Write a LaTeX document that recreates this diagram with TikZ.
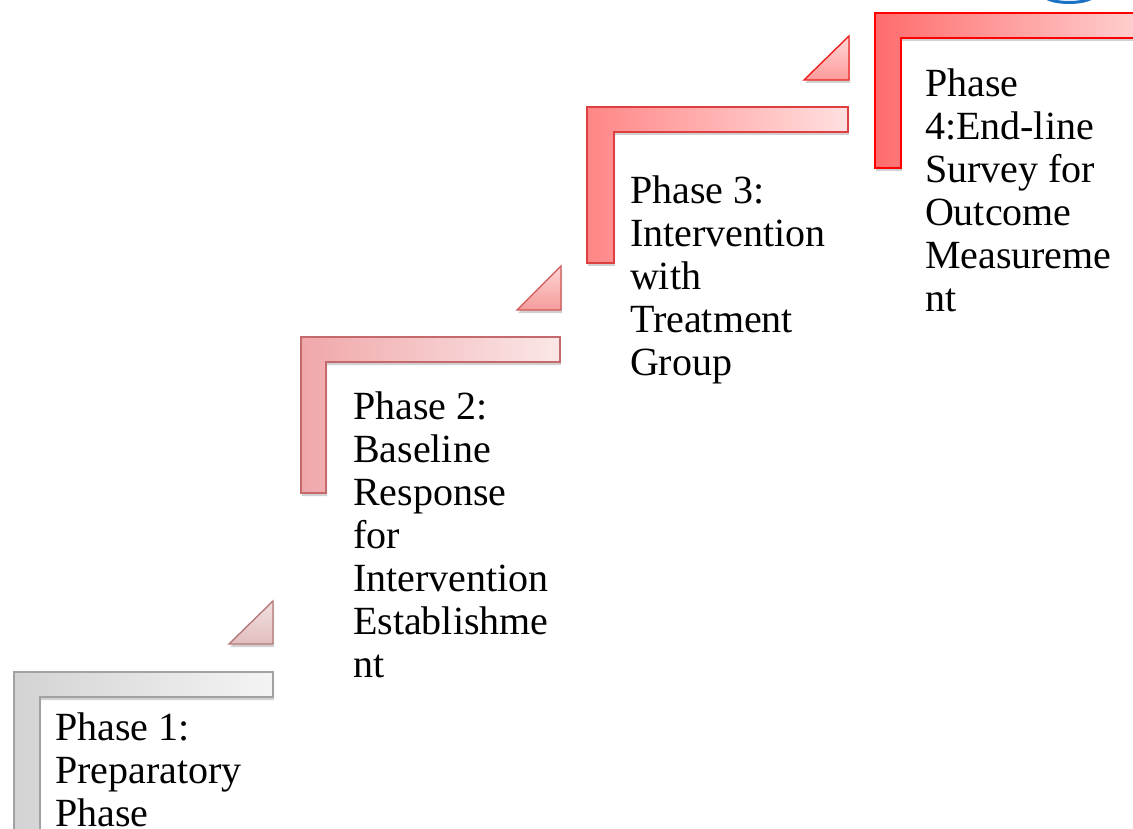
\documentclass[tikz,border=0pt]{standalone}
\usepackage{fontspec}
\setmainfont{Liberation Serif}
\usetikzlibrary{shadows}

% step colours: left shade, right shade, outline
\definecolor{sOneL}{HTML}{D3D3D3}
\definecolor{sOneR}{HTML}{F4F4F4}
\definecolor{sOneD}{HTML}{A2A2A2}
\definecolor{sTwoL}{HTML}{F0A7AA}
\definecolor{sTwoR}{HTML}{FBE7E7}
\definecolor{sTwoD}{HTML}{C46A6C}
\definecolor{sThrL}{HTML}{FF8686}
\definecolor{sThrR}{HTML}{FFE0E0}
\definecolor{sThrD}{HTML}{DD4040}
\definecolor{sFouL}{HTML}{FF6C6C}
\definecolor{sFouR}{HTML}{FFDADA}
\definecolor{sFouD}{HTML}{FF0000}
% arrow-head triangles: top shade, bottom shade, outline
\definecolor{tOneT}{HTML}{F2E0E0}
\definecolor{tOneB}{HTML}{E2BEBE}
\definecolor{tOneD}{HTML}{B47A7A}
\definecolor{tTwoT}{HTML}{FFD4D4}
\definecolor{tTwoB}{HTML}{F59C9C}
\definecolor{tTwoD}{HTML}{D05858}
\definecolor{tThrT}{HTML}{FFD8D8}
\definecolor{tThrB}{HTML}{FF9A9A}
\definecolor{tThrD}{HTML}{EE2020}
\definecolor{ringblue}{HTML}{1A72C4}

\tikzset{
  stepshape/.style n args={3}{draw=#3, line width=1.4pt, line join=miter,
    left color=#1, right color=#2,
    drop shadow={shadow xshift=1pt, shadow yshift=-3pt, opacity=0.18, fill=black}},
  tipshape/.style n args={3}{draw=#3, line width=1.4pt, line join=miter,
    top color=#1, bottom color=#2,
    drop shadow={shadow xshift=1pt, shadow yshift=-3pt, opacity=0.18, fill=black}},
  phasetext/.style={anchor=base west, inner sep=0pt, outer sep=0pt,
    font=\fontsize{40}{43}\selectfont}
}

\newcommand{\phaselines}[1]{\begin{tabular}[t]{@{}l@{}}#1\end{tabular}}

\begin{document}
\begin{tikzpicture}[x=1pt, y=-1pt]
  \useasboundingbox (0,0) rectangle (1133,829);
  \fill[white] (0,0) rectangle (1133,829);

  \begin{scope}
    \clip (0,0) rectangle (1133,829);

    % partial ring at the top edge
    \draw[ringblue, line width=3pt] (1069,-6) ellipse [x radius=26, y radius=8.5];

    % step 1
    \path[stepshape={sOneL}{sOneR}{sOneD}]
      (14,672) -- (273,672) -- (273,697) -- (40,697) -- (40,845) -- (14,845) -- cycle;
    \path[tipshape={tOneT}{tOneB}{tOneD}]
      (229,644) -- (273,601) -- (273,644) -- cycle;

    % step 2
    \path[stepshape={sTwoL}{sTwoR}{sTwoD}]
      (301,337) -- (560,337) -- (560,362) -- (326,362) -- (326,493) -- (301,493) -- cycle;
    \path[tipshape={tTwoT}{tTwoB}{tTwoD}]
      (517,310) -- (561,266) -- (561,310) -- cycle;

    % step 3
    \path[stepshape={sThrL}{sThrR}{sThrD}]
      (587,107) -- (848,107) -- (848,132) -- (614,132) -- (614,263) -- (587,263) -- cycle;
    \path[tipshape={tThrT}{tThrB}{tThrD}]
      (804,80) -- (849,36) -- (849,80) -- cycle;

    % step 4
    \path[stepshape={sFouL}{sFouR}{sFouD}]
      (875,13) -- (1165,13) -- (1165,38) -- (901,38) -- (901,168) -- (875,168) -- cycle;
  \end{scope}

  % phase labels
  \node[phasetext] (p1) at (55,740)
    {\phaselines{Phase 1:\\Preparatory\\Phase}};
  \node[phasetext] (p2) at (353,419)
    {\phaselines{Phase 2:\\Baseline\\Response\\for\\Intervention\\Establishme\\nt}};
  \node[phasetext] (p3) at (630,204)
    {\phaselines{Phase 3:\\Intervention\\with\\Treatment\\Group}};
  \node[phasetext] (p4) at (925,97)
    {\phaselines{Phase\\4:End-line\\Survey for\\Outcome\\Measureme\\nt}};
\end{tikzpicture}
\end{document}
